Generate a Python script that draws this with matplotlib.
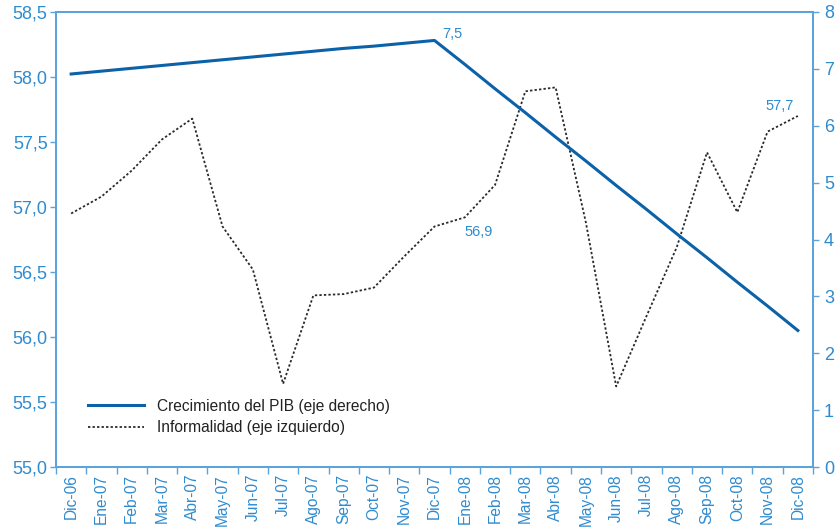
import matplotlib.pyplot as plt
from matplotlib.ticker import FixedLocator, FuncFormatter

# monthly labels, Dic-06 .. Dic-08
meses = ["Dic-06", "Ene-07", "Feb-07", "Mar-07", "Abr-07", "May-07", "Jun-07",
         "Jul-07", "Ago-07", "Sep-07", "Oct-07", "Nov-07", "Dic-07", "Ene-08",
         "Feb-08", "Mar-08", "Abr-08", "May-08", "Jun-08", "Jul-08", "Ago-08",
         "Sep-08", "Oct-08", "Nov-08", "Dic-08"]

# informalidad, eje izquierdo (%)
informalidad = [56.95, 57.08, 57.28, 57.52, 57.68, 56.85, 56.52, 55.64, 56.32,
                56.33, 56.38, 56.62, 56.85, 56.92, 57.17, 57.89, 57.92, 56.88,
                55.62, 56.16, 56.69, 57.42, 56.96, 57.58, 57.70]

# crecimiento del PIB, eje derecho (%)
pib = [6.91, 6.96, 7.01, 7.06, 7.11, 7.16, 7.21, 7.26, 7.31, 7.36, 7.40, 7.45,
       7.50, 7.08, 6.65, 6.23, 5.80, 5.38, 4.95, 4.53, 4.10, 3.68, 3.25, 2.83,
       2.40]

AXIS_BLUE = "#5ba3dc"
LABEL_BLUE = "#2e8bcf"
LINE_BLUE = "#0b62a8"

plt.rcParams["font.family"] = ["Liberation Sans", "DejaVu Sans"]

fig = plt.figure(figsize=(8.38, 5.31), dpi=100)
ax = fig.add_axes([56 / 838, 1 - 467 / 531, (813 - 56) / 838, (467 - 12) / 531])
ax2 = ax.twinx()

x = list(range(len(meses)))
l_inf, = ax.plot(x, informalidad, color="#2a2a2a", lw=1.3, dashes=(1.3, 1.2),
                 label="Informalidad (eje izquierdo)")
l_pib, = ax2.plot(x, pib, color=LINE_BLUE, lw=2.2,
                  label="Crecimiento del PIB (eje derecho)")

ax.set_xlim(-0.5, len(meses) - 0.5)
ax.set_ylim(55.0, 58.5)
ax2.set_ylim(0, 8)

ax.set_yticks([55.0 + 0.5 * i for i in range(8)])
ax.yaxis.set_major_formatter(FuncFormatter(lambda v, p: f"{v:.1f}".replace(".", ",")))
ax2.set_yticks(range(9))

# category labels centred, tick marks on the boundaries
ax.xaxis.set_major_locator(FixedLocator(x))
ax.set_xticklabels(meses, rotation=90)
ax.xaxis.set_minor_locator(FixedLocator([i - 0.5 for i in range(len(meses) + 1)]))
ax.tick_params(axis="x", which="major", length=0, pad=5, labelsize=11.2,
               labelcolor=LABEL_BLUE)
ax.tick_params(axis="x", which="minor", length=5, width=1, color=AXIS_BLUE,
               direction="out")
ax.tick_params(axis="y", length=4, width=1, color=AXIS_BLUE, labelsize=13,
               labelcolor=LABEL_BLUE, pad=2)
ax2.tick_params(axis="y", length=4, width=1, color=AXIS_BLUE, labelsize=13,
                labelcolor=LABEL_BLUE, pad=4)

for a in (ax, ax2):
    for s in a.spines.values():
        s.set_color(AXIS_BLUE)
        s.set_linewidth(1.3)

# data labels
ax2.annotate("7,5", (12, pib[12]), xytext=(8, 6), textcoords="offset pixels",
             ha="left", va="center", fontsize=10.5, color=LABEL_BLUE)
ax.annotate("56,9", (13, informalidad[13]), xytext=(0, -15),
            textcoords="offset pixels", ha="left", va="center", fontsize=10.5,
            color=LABEL_BLUE)
ax.annotate("57,7", (24, informalidad[24]), xytext=(-18, 10),
            textcoords="offset pixels", ha="center", va="center", fontsize=10.5,
            color=LABEL_BLUE)

leg = ax.legend([l_pib, l_inf], [l_pib.get_label(), l_inf.get_label()],
                loc="upper left", bbox_to_anchor=(0.042, 0.15), frameon=False,
                fontsize=11.2, handlelength=3.6, handletextpad=0.85,
                labelspacing=0.42, borderpad=0, borderaxespad=0)
for t in leg.get_texts():
    t.set_color("#222222")

fig.savefig("out.png", dpi=100)
plt.close(fig)
